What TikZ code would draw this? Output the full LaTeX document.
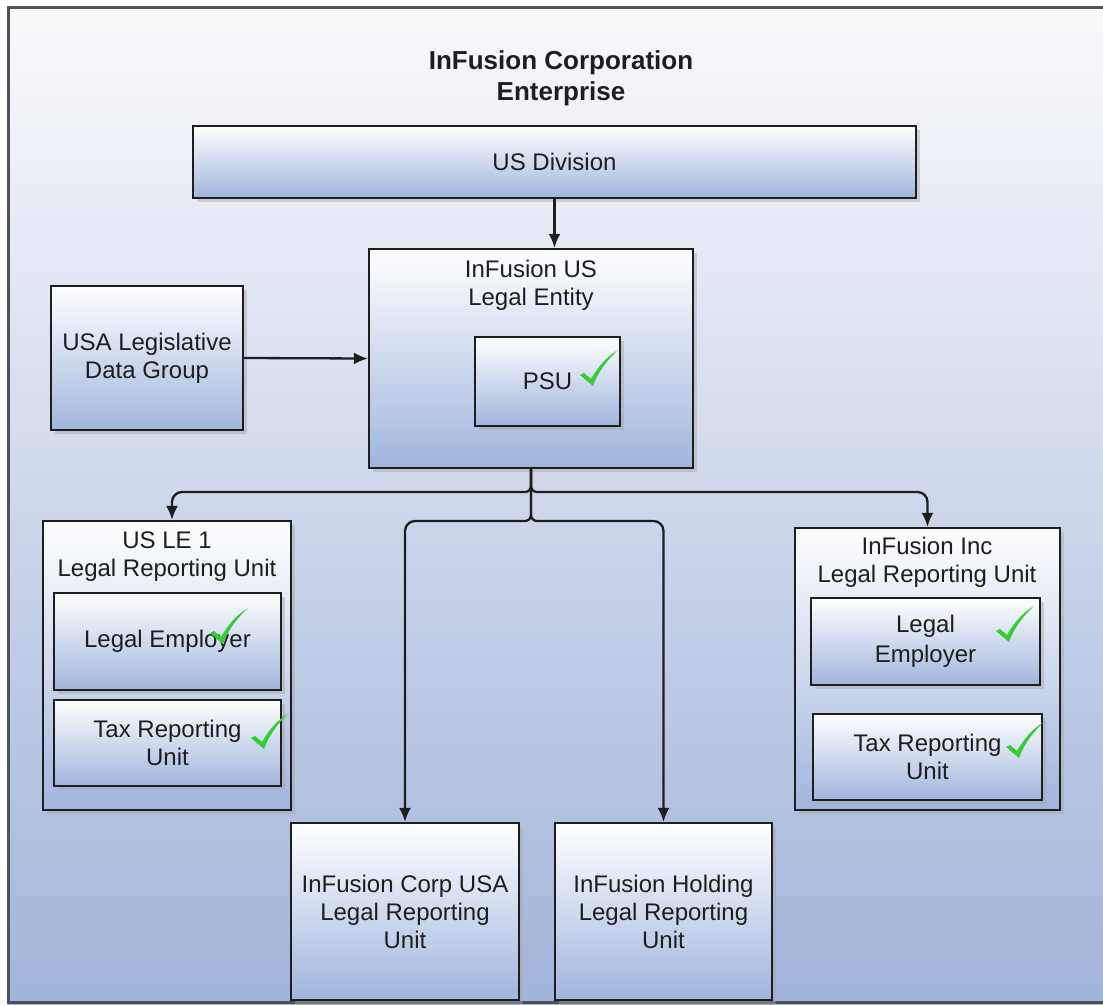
\documentclass[tikz,border=0pt]{standalone}
\usepackage{fontspec}
\setmainfont{Liberation Sans}
\usetikzlibrary{arrows.meta,shadows}
\definecolor{bgtop}{RGB}{250,250,252}
\definecolor{bgbot}{RGB}{161,180,218}
\definecolor{boxbot}{RGB}{160,181,221}
\definecolor{chk}{RGB}{52,205,52}
\definecolor{framec}{RGB}{80,80,86}
\definecolor{ink}{RGB}{30,30,30}
\begin{document}
\begin{tikzpicture}[x=1pt,y=-1pt,
  box/.style={draw=ink, line width=2.2pt, top color=white, bottom color=boxbot,
    drop shadow={shadow xshift=4pt, shadow yshift=-4pt, fill=black!35, opacity=0.45},
    inner sep=0pt, text=ink, align=center, font=\fontsize{24}{28}\selectfont},
  lbl/.style={align=center, inner sep=0pt, text=ink, font=\fontsize{24}{28}\selectfont},
  conn/.style={line width=2.3pt, draw=ink},
  arr/.style={conn, -{Latex[length=14pt,width=12pt]}},
  check/.pic={\fill[chk] (-12,-9) -- (-8,-11) -- (-1,-5) .. controls (6,-17) and (14,-27) .. (26,-34) .. controls (15,-24) and (6,-12) .. (1,2) -- cycle;}
]
\useasboundingbox (0,0) rectangle (1103,1004);
\clip (0,0) rectangle (1103,1004);
\fill[white] (0,0) rectangle (1103,1004);
\shade[top color=bgtop, bottom color=bgbot] (8,7) rectangle (1103,1004);
\draw[framec, line width=3pt] (1103,7) -- (8,7) -- (8,1002) -- (1103,1002);

% title
\node[lbl, font=\bfseries\fontsize{26}{31}\selectfont] (title) at (561,78) {InFusion Corporation\\Enterprise};

% boxes
\node[box, minimum width=723pt, minimum height=72pt] (usdiv) at (554.5,162) {US Division};
\node[box, minimum width=324pt, minimum height=219pt] (le) at (531,358.5) {};
\node[lbl] (let) at (531,285) {InFusion US\\Legal Entity};
\node[box, minimum width=145pt, minimum height=89pt] (psu) at (547.5,381.5) {PSU};
\node[box, minimum width=192pt, minimum height=144pt] (ldg) at (147,358) {USA Legislative\\Data Group};

\node[box, minimum width=248pt, minimum height=289pt] (lru1) at (167,665.5) {};
\node[lbl] (lru1t) at (167,557) {US LE 1\\Legal Reporting Unit};
\node[box, minimum width=227pt, minimum height=97pt] (le1) at (167.5,641.5) {Legal Employer};
\node[box, minimum width=227pt, minimum height=86pt] (tru1) at (167.5,743) {Tax Reporting\\Unit};

\node[box, minimum width=265pt, minimum height=282pt] (lru2) at (927.5,669) {};
\node[lbl] (lru2t) at (927,562) {InFusion Inc\\Legal Reporting Unit};
\node[box, minimum width=229pt, minimum height=87pt, font=\fontsize{24}{30}\selectfont] (le2) at (925.5,641.5) {Legal\\Employer};
\node[box, minimum width=229pt, minimum height=86pt] (tru2) at (927.5,757) {Tax Reporting\\Unit};

\node[box, minimum width=228pt, minimum height=177pt] (corp) at (405,911.5) {InFusion Corp USA\\Legal Reporting\\Unit};
\node[box, minimum width=217pt, minimum height=177pt] (hold) at (663.5,911.5) {InFusion Holding\\Legal Reporting\\Unit};

% checks
\pic at (592,384) {check};
\pic at (222,642) {check};
\pic at (263,747) {check};
\pic at (1008,640) {check};
\pic at (1018,756) {check};

% connectors
\draw[arr] (usdiv.south) -- (usdiv.south |- le.north);
\draw[arr] (ldg.east) -- (le.west);
\draw[arr, rounded corners=6pt] (le.south) |- (400,492) [rounded corners=10pt] -| ([xshift=5pt]lru1.north);
\draw[arr, rounded corners=6pt] (le.south) |- (700,492) [rounded corners=10pt] -| (lru2.north);
\draw[arr, rounded corners=6pt] (le.south) |- (480,521) [rounded corners=10pt] -| (corp.north);
\draw[arr, rounded corners=6pt] (le.south) |- (600,521) [rounded corners=10pt] -| (hold.north);
\end{tikzpicture}
\end{document}
